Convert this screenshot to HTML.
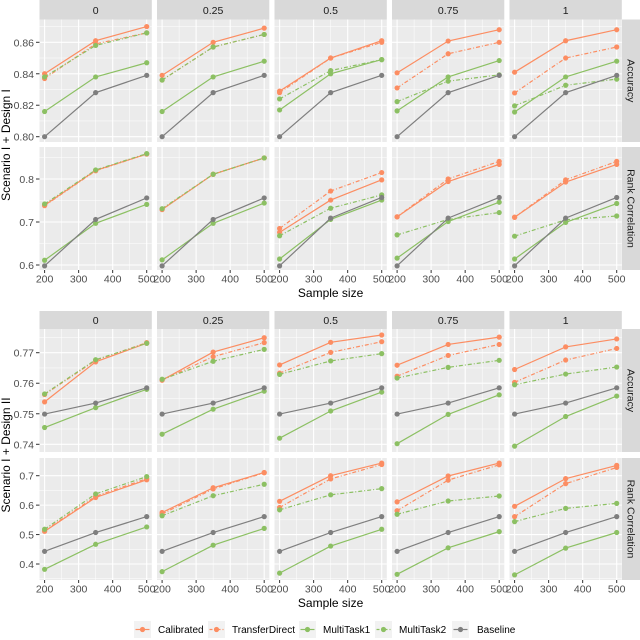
<!DOCTYPE html>
<html><head><meta charset="utf-8"><style>
body{margin:0;background:#fff;}
svg{display:block;font-family:"Liberation Sans",Arial,sans-serif;}
</style></head><body>
<svg id="c" width="640" height="640" viewBox="0 0 640 640"></svg>
<script>
const sampleSizes=[200,350,500];
const facetLabels=["0","0.25","0.5","0.75","1"];
const seriesNames=["Calibrated","TransferDirect","MultiTask1","MultiTask2","Baseline"];
// Scenario I + Design I, Accuracy [facet][series][x]
const d1Acc=[
[[.840,.861,.870],[.837,.859,.866],[.816,.838,.847],[.838,.858,.866],[.800,.828,.839]],
[[.839,.860,.869],[.836,.857,.865],[.816,.838,.848],[.836,.857,.865],[.800,.828,.839]],
[[.829,.850,.861],[.828,.850,.860],[.817,.840,.849],[.824,.842,.849],[.800,.828,.839]],
[[.8406,.8608,.868],[.831,.8527,.860],[.8164,.838,.8484],[.8223,.8353,.8393],[.800,.828,.839]],
[[.841,.861,.868],[.8278,.850,.857],[.8157,.838,.848],[.8196,.8327,.8366],[.800,.828,.839]]];
const d1Rank=[
[[.739,.820,.858],[.738,.819,.858],[.611,.697,.741],[.742,.821,.859],[.598,.706,.756]],
[[.729,.811,.849],[.729,.811,.849],[.612,.697,.744],[.731,.811,.849],[.598,.706,.756]],
[[.676,.751,.798],[.685,.772,.815],[.614,.706,.751],[.668,.732,.763],[.598,.709,.757]],
[[.712,.794,.834],[.712,.800,.841],[.616,.701,.746],[.670,.706,.722],[.598,.709,.757]],
[[.711,.793,.834],[.711,.798,.841],[.614,.699,.743],[.667,.705,.714],[.598,.709,.757]]];
const d2Acc=[
[[.7539,.767,.7731],[.7563,.7675,.7733],[.7455,.752,.758],[.7565,.7677,.7731],[.7499,.7535,.7585]],
[[.761,.7702,.7749],[.761,.7687,.7733],[.7433,.7515,.7574],[.7613,.7672,.7711],[.7499,.7535,.7585]],
[[.766,.7734,.7758],[.7633,.7701,.7736],[.742,.7509,.7571],[.7629,.7673,.7697],[.7499,.7535,.7585]],
[[.7659,.7727,.7751],[.7623,.7691,.7727],[.7402,.7498,.7562],[.7617,.7652,.7675],[.7499,.7535,.7585]],
[[.7645,.7719,.7745],[.7603,.7676,.7714],[.7394,.7491,.7558],[.7595,.763,.7653],[.7499,.7535,.7585]]];
const d2Rank=[
[[.511,.626,.686],[.513,.630,.690],[.382,.467,.526],[.518,.638,.697],[.443,.507,.561]],
[[.575,.659,.711],[.570,.655,.710],[.374,.464,.521],[.564,.632,.671],[.443,.507,.561]],
[[.613,.700,.743],[.592,.689,.738],[.369,.461,.518],[.584,.635,.656],[.443,.507,.561]],
[[.611,.699,.743],[.581,.685,.737],[.365,.455,.510],[.569,.614,.631],[.443,.507,.561]],
[[.596,.690,.735],[.561,.673,.728],[.363,.454,.507],[.544,.589,.606],[.443,.507,.561]]];
const xTicks=[200,300,400,500];
const accTicks1=[0.80,0.82,0.84,0.86], rankTicks1=[0.6,0.7,0.8];
const accTicks2=[0.74,0.75,0.76,0.77], rankTicks2=[0.4,0.5,0.6,0.7];

const NS="http://www.w3.org/2000/svg",svg=document.getElementById('c');
function el(t,a,p){const e=document.createElementNS(NS,t);for(const k in a)e.setAttribute(k,a[k]);(p||svg).appendChild(e);return e;}
const colors=["#FC8D62","#FC8D62","#8CC063","#8CC063","#7F7F7F"];
const dashes=[null,"4,2,1,2",null,"4,2,1,2",null];
const colX=[39.5,157,274.5,392,509.5],PW=112.3;
function xs(px,v){return px+5.1+(v-200)/300*(PW-10.2);}
function yScale(v0,y0,v1,y1){return v=>y0+(v-v0)/(v1-v0)*(y1-y0);}

function drawRow(top,bot,data,ticks,ys,minor,rowName,stripLabel,showX,dec){
  for(let f=0;f<5;f++){
    const px=colX[f];
    const r=el('rect',{x:px,y:top,width:PW,height:bot-top,fill:'#EBEBEB'});
    
    
    minor.forEach(v=>el('line',{x1:px,x2:px+PW,y1:ys(v),y2:ys(v),stroke:'#fff','stroke-width':0.5}));
    [250,350,450].forEach(v=>el('line',{x1:xs(px,v),x2:xs(px,v),y1:top,y2:bot,stroke:'#fff','stroke-width':0.5}));
    ticks.forEach(v=>el('line',{x1:px,x2:px+PW,y1:ys(v),y2:ys(v),stroke:'#fff','stroke-width':1.1}));
    xTicks.forEach(v=>el('line',{x1:xs(px,v),x2:xs(px,v),y1:top,y2:bot,stroke:'#fff','stroke-width':1.1}));
    for(let s=0;s<5;s++){
      const vals=data[f][s];
      const pts=vals.map((v,i)=>xs(px,sampleSizes[i])+','+ys(v)).join(' ');
      const a={points:pts,fill:'none',stroke:colors[s],'stroke-width':1.2};
      if(dashes[s])a['stroke-dasharray']=dashes[s];
      const pl=el('polyline',a);
      
      
      vals.forEach((v,i)=>{const c=el('circle',{cx:xs(px,sampleSizes[i]),cy:ys(v),r:2.6,fill:colors[s]});
        
        });
    }
    if(showX){
      xTicks.forEach(v=>{el('line',{x1:xs(px,v),x2:xs(px,v),y1:bot,y2:bot+3,stroke:'#333'});
        const t=el('text',{x:xs(px,v),y:bot+12.5,'text-anchor':'middle','font-size':10.5,fill:'#4D4D4D'});t.textContent=v;
        });
    }
  }
  ticks.forEach(v=>{el('line',{x1:36,x2:39.5,y1:ys(v),y2:ys(v),stroke:'#333'});
    const t=el('text',{x:34,y:ys(v)+4,'text-anchor':'end','font-size':10.5,fill:'#4D4D4D'});t.textContent=v.toFixed(dec);
    });
  const s=el('rect',{x:622,y:top,width:18,height:bot-top,fill:'#D9D9D9'});
  
  const cy=(top+bot)/2;
  const t=el('text',{x:631,y:cy,'text-anchor':'middle','font-size':10.5,fill:'#1A1A1A',transform:`rotate(90 631 ${cy}) translate(0 3.5)`});t.textContent=stripLabel;
  
}
function stripsTop(y0,y1,prefix){
  for(let f=0;f<5;f++){
    const r=el('rect',{x:colX[f],y:y0,width:PW,height:y1-y0,fill:'#D9D9D9'});
    
    const t=el('text',{x:colX[f]+PW/2,y:(y0+y1)/2+4,'text-anchor':'middle','font-size':10.5,fill:'#1A1A1A'});t.textContent=facetLabels[f];
    
  }
}
function ytitle(txt,cy,name){const t=el('text',{x:6,y:cy,'text-anchor':'middle','font-size':12,fill:'#000',transform:`rotate(-90 6 ${cy}) translate(0 4)`});t.textContent=txt;
  }
function xtitle(y,name){const t=el('text',{x:330.6,y:y,'text-anchor':'middle','font-size':12,fill:'#000'});t.textContent='Sample size';
  }

stripsTop(0,19.5,'top');
drawRow(19.5,142,d1Acc,accTicks1,yScale(.80,136.7,.86,42.3),[.81,.83,.85,.87],'top-accuracy','Accuracy',false,2);
drawRow(147,270,d1Rank,rankTicks1,yScale(.6,265,.8,179),[.65,.75,.85],'top-rank','Rank Correlation',true,1);
ytitle('Scenario I + Design I',145,'top-y-axis-title');
xtitle(297,'top-x-axis-title');
stripsTop(311,329,'bottom');
drawRow(329,452,d2Acc,accTicks2,yScale(.74,444.3,.77,352.7),[.745,.755,.765,.775],'bottom-accuracy','Accuracy',false,2);
drawRow(458,580,d2Rank,rankTicks2,yScale(.4,564,.7,475.7),[.35,.45,.55,.65],'bottom-rank','Rank Correlation',true,1);
ytitle('Scenario I + Design II',455,'bottom-y-axis-title');
xtitle(607,'bottom-x-axis-title');

// legend
const keyX=[134,208,299,375,452],txtX=[158,232,323,399,477];
for(let s=0;s<5;s++){
  const g=el('g',{});
  
  
  el('rect',{x:keyX[s],y:621,width:17,height:17,fill:'#F2F2F2'},g);
  const a={x1:keyX[s]+1.5,x2:keyX[s]+15.5,y1:629.5,y2:629.5,stroke:colors[s],'stroke-width':1.2};
  if(dashes[s])a['stroke-dasharray']='3,2,1,2';
  el('line',a,g);
  el('circle',{cx:keyX[s]+8.5,cy:629.5,r:2.6,fill:colors[s]},g);
  const t=el('text',{x:txtX[s],y:633,'font-size':10,fill:'#000'},g);t.textContent=seriesNames[s];
}
</script>
</body></html>
